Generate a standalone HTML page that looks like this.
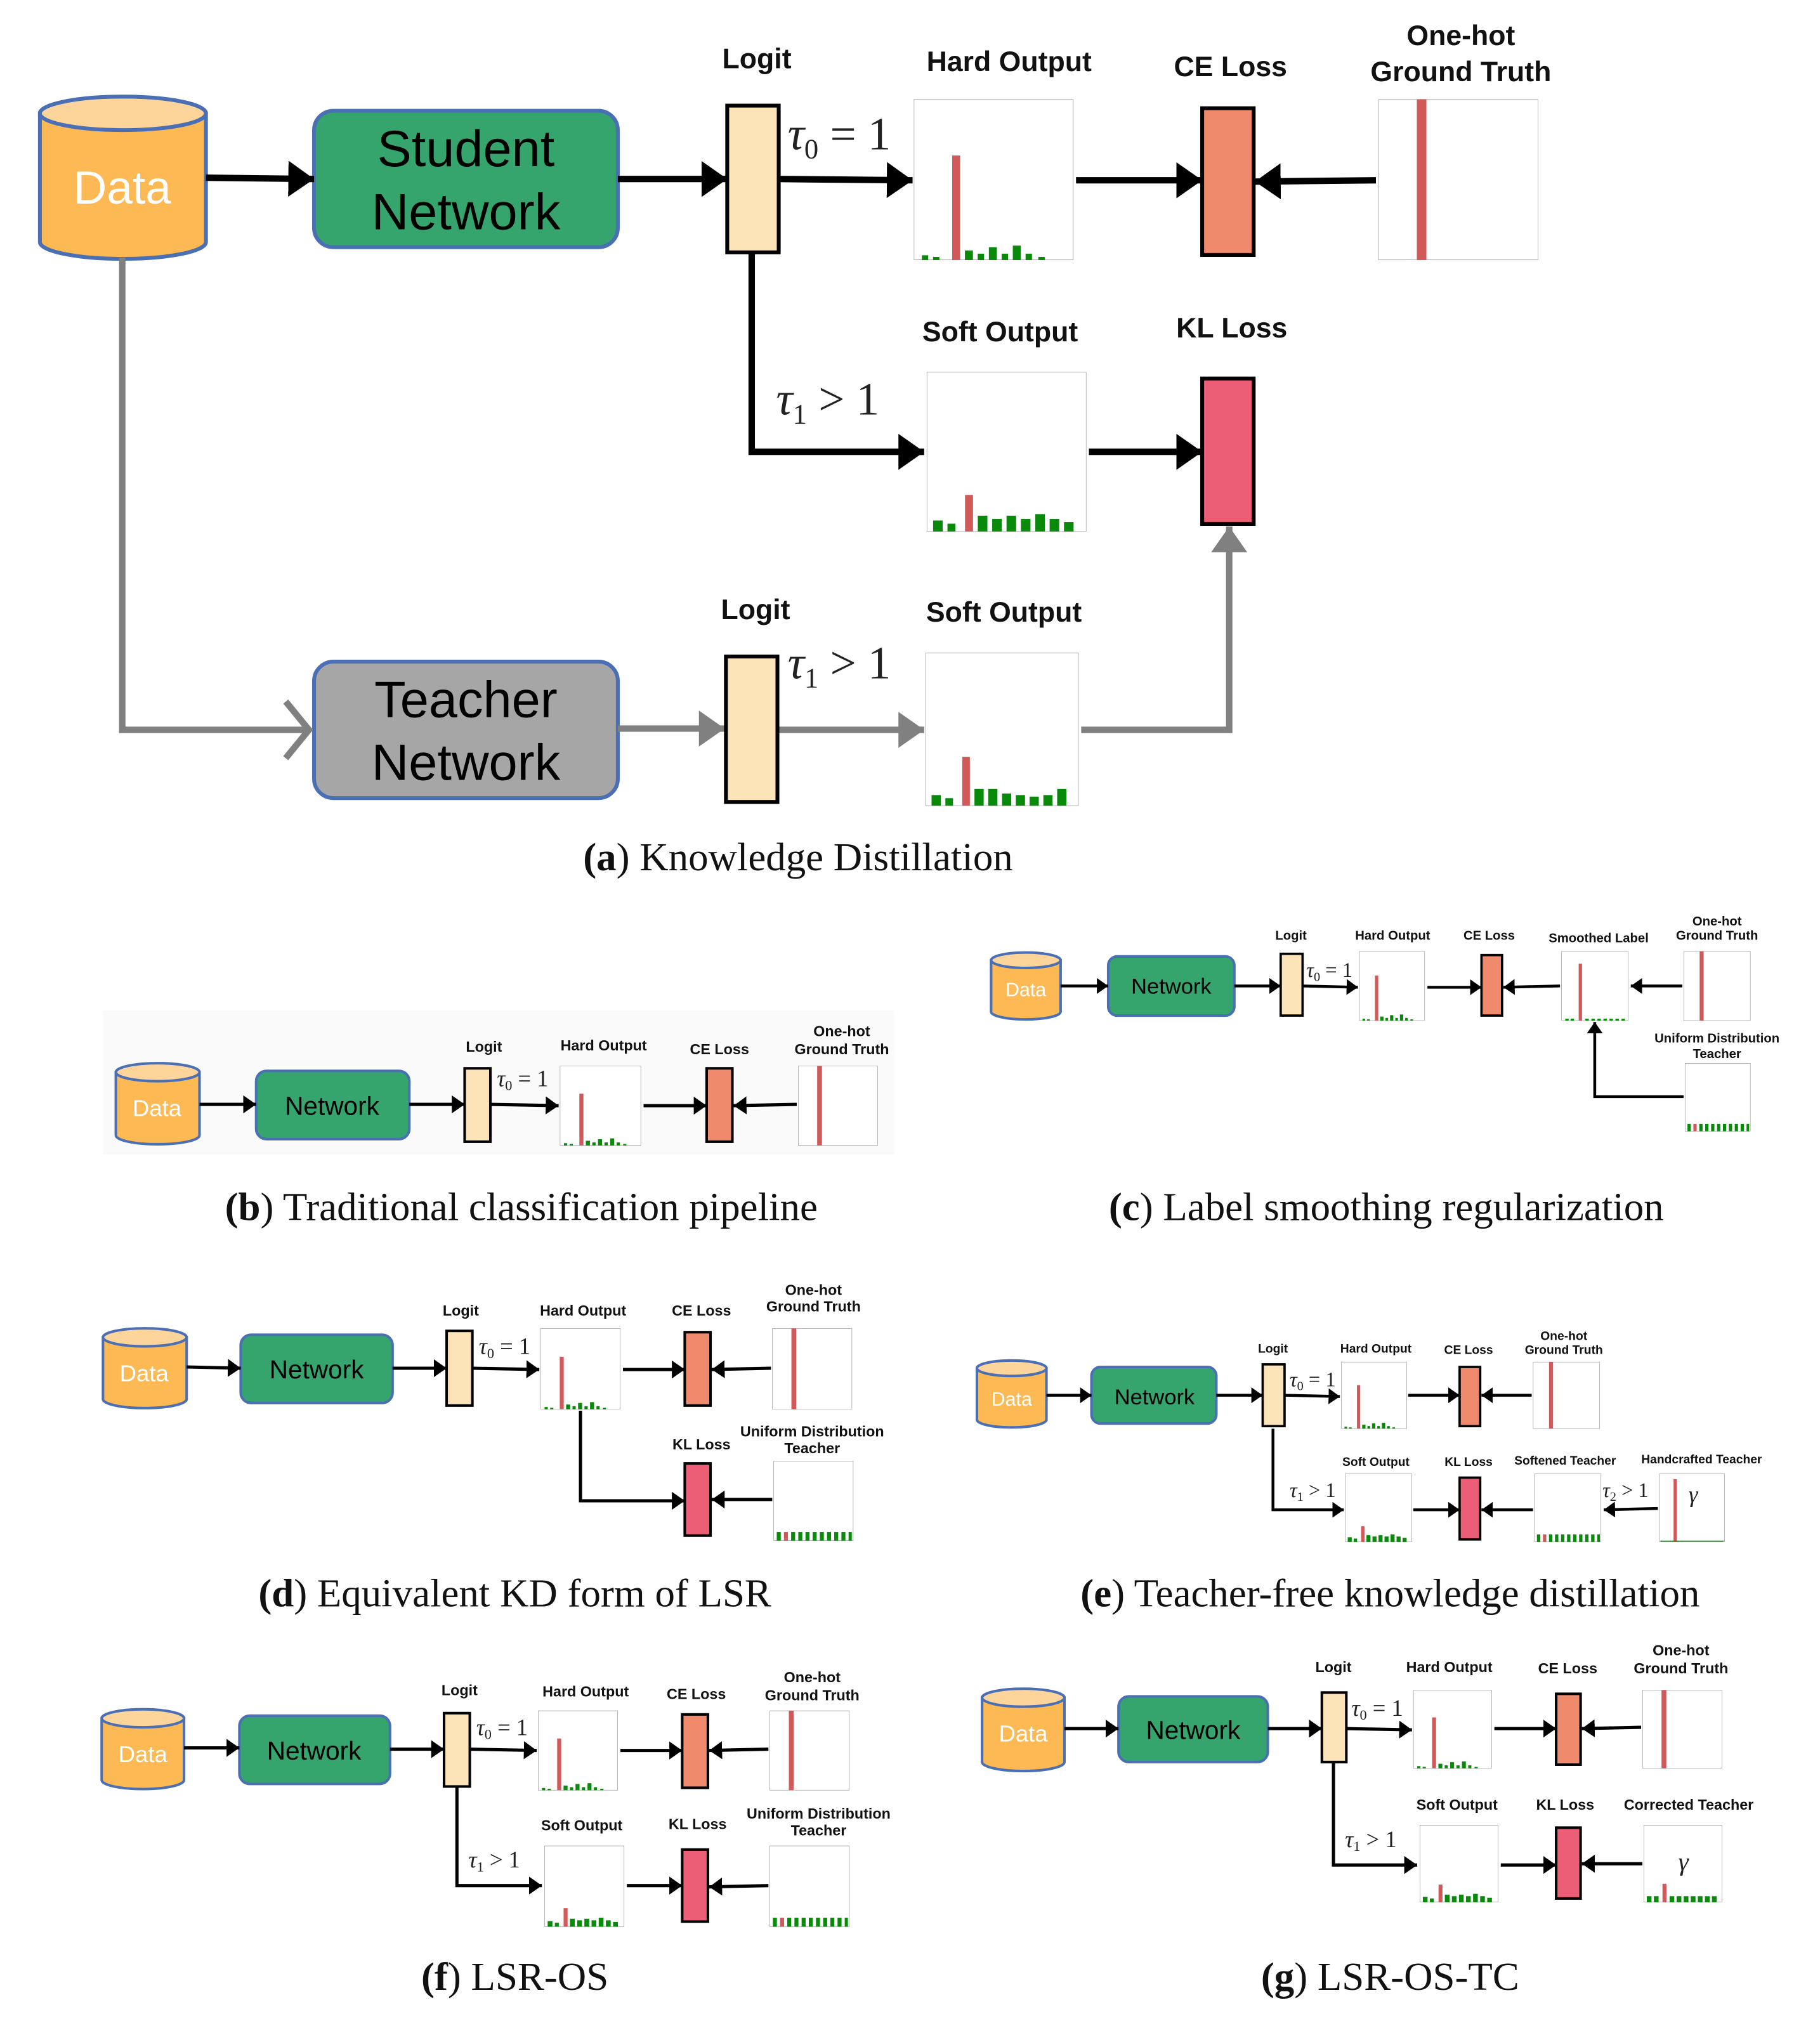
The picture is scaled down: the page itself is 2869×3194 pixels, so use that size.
<!DOCTYPE html>
<html><head><meta charset="utf-8"><style>
html,body{margin:0;padding:0;background:#fff;}
svg{display:block;}
.l{font-family:"Liberation Sans",sans-serif;font-weight:bold;text-anchor:middle;fill:#111;}
.m{font-family:"Liberation Serif",serif;fill:#222;}
.cap{font-family:"Liberation Serif",serif;text-anchor:middle;fill:#111;}
</style></head><body>
<svg width="2869" height="3194" viewBox="0 0 1414 1574" xmlns="http://www.w3.org/2000/svg">
<defs>
<marker id="ab" viewBox="0 0 10 14" refX="10" refY="7" markerWidth="4" markerHeight="5.6" orient="auto" markerUnits="strokeWidth"><path d="M0,0 L10,7 L0,14 z" fill="#000"/></marker>
<marker id="ag" viewBox="0 0 10 14" refX="10" refY="7" markerWidth="4" markerHeight="5.6" orient="auto" markerUnits="strokeWidth"><path d="M0,0 L10,7 L0,14 z" fill="#808080"/></marker>
<symbol id="hard" viewBox="0 0 100 100" preserveAspectRatio="none">
<rect x="0" y="0" width="100" height="100" fill="#fff" stroke="#888" stroke-width="1.2" vector-effect="non-scaling-stroke"/>
<rect x="24" y="35" width="5" height="65" fill="#d05a5a"/>
<g fill="#0a8a0a"><rect x="5" y="97" width="4" height="3"/><rect x="12" y="98" width="4" height="2"/><rect x="32" y="94" width="5" height="6"/><rect x="40" y="96" width="4" height="4"/><rect x="47" y="92" width="5" height="8"/><rect x="55" y="96" width="4" height="4"/><rect x="62" y="91" width="5" height="9"/><rect x="70" y="96" width="4" height="4"/><rect x="78" y="98" width="4" height="2"/></g>
</symbol>
<symbol id="soft" viewBox="0 0 100 100" preserveAspectRatio="none">
<rect x="0" y="0" width="100" height="100" fill="#fff" stroke="#888" stroke-width="1.2" vector-effect="non-scaling-stroke"/>
<rect x="24" y="77" width="5" height="23" fill="#d05a5a"/>
<g fill="#0a8a0a"><rect x="4" y="93" width="6" height="7"/><rect x="13" y="95" width="5" height="5"/><rect x="32" y="90" width="6" height="10"/><rect x="41" y="92" width="6" height="8"/><rect x="50" y="90" width="6" height="10"/><rect x="59" y="92" width="6" height="8"/><rect x="68" y="89" width="6" height="11"/><rect x="77" y="92" width="6" height="8"/><rect x="86" y="94" width="6" height="6"/></g>
</symbol>
<symbol id="softT" viewBox="0 0 100 100" preserveAspectRatio="none">
<rect x="0" y="0" width="100" height="100" fill="#fff" stroke="#888" stroke-width="1.2" vector-effect="non-scaling-stroke"/>
<rect x="24" y="68" width="5" height="32" fill="#d05a5a"/>
<g fill="#0a8a0a"><rect x="4" y="93" width="6" height="7"/><rect x="13" y="95" width="5" height="5"/><rect x="32" y="89" width="6" height="11"/><rect x="41" y="89" width="6" height="11"/><rect x="50" y="92" width="6" height="8"/><rect x="59" y="93" width="6" height="7"/><rect x="68" y="94" width="6" height="6"/><rect x="77" y="93" width="6" height="7"/><rect x="86" y="89" width="6" height="11"/></g>
</symbol>
<symbol id="uni" viewBox="0 0 100 100" preserveAspectRatio="none">
<rect x="0" y="0" width="100" height="100" fill="#fff" stroke="#888" stroke-width="1.2" vector-effect="non-scaling-stroke"/>
<g fill="#0a8a0a"><rect x="4" y="89" width="5" height="11"/><rect x="22" y="89" width="5" height="11"/><rect x="31" y="89" width="5" height="11"/><rect x="40" y="89" width="5" height="11"/><rect x="49" y="89" width="5" height="11"/><rect x="58" y="89" width="5" height="11"/><rect x="67" y="89" width="5" height="11"/><rect x="76" y="89" width="5" height="11"/><rect x="85" y="89" width="5" height="11"/><rect x="94" y="89" width="4" height="11"/></g>
<rect x="13" y="89" width="5" height="11" fill="#d05a5a"/>
</symbol>
<symbol id="smooth" viewBox="0 0 100 100" preserveAspectRatio="none">
<rect x="0" y="0" width="100" height="100" fill="#fff" stroke="#888" stroke-width="1.2" vector-effect="non-scaling-stroke"/>
<rect x="26" y="18" width="5" height="82" fill="#d05a5a"/>
<g fill="#0a8a0a"><rect x="6" y="97" width="5" height="3"/><rect x="14" y="97" width="5" height="3"/><rect x="36" y="97" width="5" height="3"/><rect x="45" y="97" width="5" height="3"/><rect x="54" y="97" width="5" height="3"/><rect x="63" y="97" width="5" height="3"/><rect x="72" y="97" width="5" height="3"/><rect x="81" y="97" width="5" height="3"/><rect x="90" y="97" width="5" height="3"/></g>
</symbol>
<symbol id="onehot" viewBox="0 0 100 100" preserveAspectRatio="none">
<rect x="0" y="0" width="100" height="100" fill="#fff" stroke="#888" stroke-width="1.2" vector-effect="non-scaling-stroke"/>
<rect x="24" y="0" width="6" height="100" fill="#d05a5a"/>
</symbol>
<symbol id="hand" viewBox="0 0 100 100" preserveAspectRatio="none">
<rect x="0" y="0" width="100" height="100" fill="#fff" stroke="#888" stroke-width="1.2" vector-effect="non-scaling-stroke"/>
<rect x="22" y="8" width="5" height="92" fill="#d05a5a"/>
<rect x="2" y="98" width="96" height="1.5" fill="#0a8a0a"/>
</symbol>
<symbol id="corr" viewBox="0 0 100 100" preserveAspectRatio="none">
<rect x="0" y="0" width="100" height="100" fill="#fff" stroke="#888" stroke-width="1.2" vector-effect="non-scaling-stroke"/>
<rect x="24" y="76" width="5" height="24" fill="#d05a5a"/>
<g fill="#0a8a0a"><rect x="4" y="92" width="6" height="8"/><rect x="13" y="92" width="6" height="8"/><rect x="33" y="92" width="6" height="8"/><rect x="42" y="92" width="6" height="8"/><rect x="51" y="92" width="6" height="8"/><rect x="60" y="92" width="6" height="8"/><rect x="69" y="92" width="6" height="8"/><rect x="78" y="92" width="6" height="8"/><rect x="87" y="92" width="6" height="8"/></g>
</symbol>
</defs>

<!-- ===== (a) ===== -->
<g stroke="#4a6fb5" stroke-width="3">
<path d="M31,88 L31,188 A64.5,13 0 0 0 160,188 L160,88 Z" fill="#fdb954"/>
<ellipse cx="95.5" cy="88" rx="64.5" ry="13" fill="#fdd59b"/>
<rect x="244" y="86" width="236" height="106" rx="15" fill="#35a46d"/>
<rect x="244" y="514" width="236" height="106" rx="15" fill="#a6a6a6"/>
</g>
<text x="95" y="158" font-family="Liberation Sans,sans-serif" font-size="36" fill="#fff" text-anchor="middle">Data</text>
<text x="362" y="129" font-family="Liberation Sans,sans-serif" font-size="40" text-anchor="middle">Student</text>
<text x="362" y="178" font-family="Liberation Sans,sans-serif" font-size="40" text-anchor="middle">Network</text>
<text x="362" y="557" font-family="Liberation Sans,sans-serif" font-size="40" text-anchor="middle">Teacher</text>
<text x="362" y="606" font-family="Liberation Sans,sans-serif" font-size="40" text-anchor="middle">Network</text>
<g stroke="#000" stroke-width="5" fill="none" marker-end="url(#ab)">
<line x1="160" y1="138" x2="244" y2="139"/>
<line x1="480" y1="139" x2="565" y2="139"/>
<line x1="605" y1="139" x2="709" y2="140"/>
<line x1="836" y1="140" x2="934" y2="140"/>
<line x1="1069" y1="140" x2="975" y2="141"/>
<polyline points="584,196 584,351 718,351"/>
<line x1="846" y1="351" x2="934" y2="351"/>
</g>
<g stroke="#808080" stroke-width="5" fill="none">
<polyline points="95,200 95,567 240,567"/>
<polyline points="222,545 240,567 222,589"/>
<line x1="480" y1="566" x2="563" y2="566" marker-end="url(#ag)"/>
<line x1="605" y1="567" x2="718" y2="567" marker-end="url(#ag)"/>
<polyline points="840,567 955,567 955,409" marker-end="url(#ag)"/>
</g>
<g stroke="#000" stroke-width="3">
<rect x="565" y="82" width="40" height="114" fill="#fde3b8"/>
<rect x="564" y="510" width="40" height="113" fill="#fde3b8"/>
<rect x="934" y="84" width="40" height="114" fill="#f08a6c"/>
<rect x="934" y="294" width="40" height="113" fill="#eb5e75"/>
</g>
<use href="#hard" x="710" y="77" width="124" height="125"/>
<use href="#onehot" x="1071" y="77" width="124" height="125"/>
<use href="#soft" x="720" y="289" width="124" height="124"/>
<use href="#softT" x="719" y="507" width="119" height="119"/>
<g class="l" font-size="22">
<text x="588" y="53">Logit</text><text x="784" y="55">Hard Output</text><text x="956" y="59">CE Loss</text>
<text x="1135" y="35">One-hot</text><text x="1135" y="63">Ground Truth</text>
<text x="777" y="265">Soft Output</text><text x="957" y="262">KL Loss</text>
<text x="587" y="481">Logit</text><text x="780" y="483">Soft Output</text>
</g>
<text class="m" x="612" y="116" font-size="36"><tspan font-style="italic">τ</tspan><tspan font-size="22" dy="7">0</tspan><tspan dy="-7"> = 1</tspan></text>
<text class="m" x="603" y="322" font-size="36"><tspan font-style="italic">τ</tspan><tspan font-size="22" dy="7">1</tspan><tspan dy="-7"> &gt; 1</tspan></text>
<text class="m" x="612" y="527" font-size="36"><tspan font-style="italic">τ</tspan><tspan font-size="22" dy="7">1</tspan><tspan dy="-7"> &gt; 1</tspan></text>
<text class="cap" x="620" y="676" font-size="31"><tspan font-weight="bold">(a</tspan>) Knowledge Distillation</text>

<!-- ===== (b) ===== -->
<rect x="80" y="785" width="615" height="112" fill="#fafafa"/>
<g stroke="#4a6fb5" stroke-width="2">
<path d="M90,833 L90,882 A32.5,7 0 0 0 155,882 L155,833 Z" fill="#fdb954"/>
<ellipse cx="122.5" cy="833" rx="32.5" ry="7" fill="#fdd59b"/>
<rect x="199" y="832" width="119" height="53" rx="8" fill="#35a46d"/>
</g>
<text x="122" y="867" font-family="Liberation Sans,sans-serif" font-size="18" fill="#fff" text-anchor="middle">Data</text>
<text x="258" y="866" font-family="Liberation Sans,sans-serif" font-size="20" text-anchor="middle">Network</text>
<g stroke="#000" stroke-width="2.5" fill="none" marker-end="url(#ab)">
<line x1="155" y1="858" x2="199" y2="858"/><line x1="318" y1="858" x2="361" y2="858"/>
<line x1="381" y1="858" x2="434" y2="859"/><line x1="500" y1="859" x2="549" y2="859"/>
<line x1="619" y1="858" x2="570" y2="859"/>
</g>
<g stroke="#000" stroke-width="2">
<rect x="361" y="830" width="20" height="57" fill="#fde3b8"/>
<rect x="549" y="830" width="20" height="57" fill="#f08a6c"/>
</g>
<use href="#hard" x="435" y="828" width="63" height="62"/>
<use href="#onehot" x="620" y="828" width="62" height="62"/>
<g class="l" font-size="11.5">
<text x="376" y="817">Logit</text><text x="469" y="816">Hard Output</text><text x="559" y="819">CE Loss</text>
<text x="654" y="805">One-hot</text><text x="654" y="819">Ground Truth</text>
</g>
<text class="m" x="386" y="844" font-size="18"><tspan font-style="italic">τ</tspan><tspan font-size="11" dy="3">0</tspan><tspan dy="-3"> = 1</tspan></text>
<text class="cap" x="405" y="948" font-size="31"><tspan font-weight="bold">(b</tspan>) Traditional classification pipeline</text>

<!-- ===== (c) ===== -->
<g stroke="#4a6fb5" stroke-width="2">
<path d="M770,746 L770,786 A27,6 0 0 0 824,786 L824,746 Z" fill="#fdb954"/>
<ellipse cx="797" cy="746" rx="27" ry="6" fill="#fdd59b"/>
<rect x="861" y="743" width="98" height="46" rx="7" fill="#35a46d"/>
</g>
<text x="797" y="774" font-family="Liberation Sans,sans-serif" font-size="15" fill="#fff" text-anchor="middle">Data</text>
<text x="910" y="772" font-family="Liberation Sans,sans-serif" font-size="17" text-anchor="middle">Network</text>
<g stroke="#000" stroke-width="2.2" fill="none" marker-end="url(#ab)">
<line x1="824" y1="766" x2="861" y2="766"/><line x1="959" y1="766" x2="995" y2="766"/>
<line x1="1012" y1="766" x2="1055" y2="767"/><line x1="1109" y1="767" x2="1151" y2="767"/>
<line x1="1212" y1="766" x2="1168" y2="767"/><line x1="1307" y1="766" x2="1267" y2="766"/>
<polyline points="1308,852 1239,852 1239,794"/>
</g>
<g stroke="#000" stroke-width="1.8">
<rect x="995" y="741" width="17" height="48" fill="#fde3b8"/>
<rect x="1151" y="742" width="16" height="47" fill="#f08a6c"/>
</g>
<use href="#hard" x="1056" y="739" width="51" height="54"/>
<use href="#smooth" x="1213" y="739" width="52" height="54"/>
<use href="#onehot" x="1308" y="739" width="52" height="54"/>
<use href="#uni" x="1309" y="826" width="51" height="53"/>
<g class="l" font-size="10">
<text x="1003" y="730">Logit</text><text x="1082" y="730">Hard Output</text><text x="1157" y="730">CE Loss</text>
<text x="1242" y="732">Smoothed Label</text><text x="1334" y="719">One-hot</text><text x="1334" y="730">Ground Truth</text>
<text x="1334" y="810">Uniform Distribution</text><text x="1334" y="822">Teacher</text>
</g>
<text class="m" x="1015" y="759" font-size="16"><tspan font-style="italic">τ</tspan><tspan font-size="10" dy="3">0</tspan><tspan dy="-3"> = 1</tspan></text>
<text class="cap" x="1077" y="948" font-size="31"><tspan font-weight="bold">(c</tspan>) Label smoothing regularization</text>

<!-- ===== (d) ===== -->
<g stroke="#4a6fb5" stroke-width="2">
<path d="M80,1039 L80,1087 A32.5,7 0 0 0 145,1087 L145,1039 Z" fill="#fdb954"/>
<ellipse cx="112.5" cy="1039" rx="32.5" ry="7" fill="#fdd59b"/>
<rect x="187" y="1037" width="118" height="53" rx="8" fill="#35a46d"/>
</g>
<text x="112" y="1073" font-family="Liberation Sans,sans-serif" font-size="18" fill="#fff" text-anchor="middle">Data</text>
<text x="246" y="1071" font-family="Liberation Sans,sans-serif" font-size="20" text-anchor="middle">Network</text>
<g stroke="#000" stroke-width="2.5" fill="none" marker-end="url(#ab)">
<line x1="145" y1="1062" x2="187" y2="1063"/><line x1="305" y1="1063" x2="347" y2="1063"/>
<line x1="367" y1="1063" x2="419" y2="1064"/><line x1="484" y1="1064" x2="532" y2="1064"/>
<line x1="599" y1="1063" x2="553" y2="1064"/>
<polyline points="451,1096 451,1166 532,1166"/>
<line x1="600" y1="1165" x2="553" y2="1165"/>
</g>
<g stroke="#000" stroke-width="2">
<rect x="347" y="1034" width="20" height="58" fill="#fde3b8"/>
<rect x="532" y="1035" width="20" height="57" fill="#f08a6c"/>
<rect x="532" y="1137" width="20" height="56" fill="#eb5e75"/>
</g>
<use href="#hard" x="420" y="1032" width="62" height="63"/>
<use href="#onehot" x="600" y="1032" width="62" height="63"/>
<use href="#uni" x="601" y="1135" width="62" height="62"/>
<g class="l" font-size="11.5">
<text x="358" y="1022">Logit</text><text x="453" y="1022">Hard Output</text><text x="545" y="1022">CE Loss</text>
<text x="632" y="1006">One-hot</text><text x="632" y="1019">Ground Truth</text>
<text x="545" y="1126">KL Loss</text><text x="631" y="1116">Uniform Distribution</text><text x="631" y="1129">Teacher</text>
</g>
<text class="m" x="372" y="1052" font-size="18"><tspan font-style="italic">τ</tspan><tspan font-size="11" dy="3">0</tspan><tspan dy="-3"> = 1</tspan></text>
<text class="cap" x="400" y="1248" font-size="31"><tspan font-weight="bold">(d</tspan>) Equivalent KD form of LSR</text>

<!-- ===== (e) ===== -->
<g stroke="#4a6fb5" stroke-width="2">
<path d="M759,1063 L759,1103 A27,6 0 0 0 813,1103 L813,1063 Z" fill="#fdb954"/>
<ellipse cx="786" cy="1063" rx="27" ry="6" fill="#fdd59b"/>
<rect x="848" y="1062" width="97" height="44" rx="7" fill="#35a46d"/>
</g>
<text x="786" y="1092" font-family="Liberation Sans,sans-serif" font-size="15" fill="#fff" text-anchor="middle">Data</text>
<text x="897" y="1091" font-family="Liberation Sans,sans-serif" font-size="17" text-anchor="middle">Network</text>
<g stroke="#000" stroke-width="2.2" fill="none" marker-end="url(#ab)">
<line x1="813" y1="1084" x2="848" y2="1084"/><line x1="945" y1="1084" x2="981" y2="1084"/>
<line x1="998" y1="1084" x2="1041" y2="1085"/><line x1="1094" y1="1084" x2="1134" y2="1084"/>
<line x1="1190" y1="1084" x2="1151" y2="1084"/>
<polyline points="989,1110 989,1173 1044,1173"/>
<line x1="1098" y1="1173" x2="1134" y2="1173"/>
<line x1="1191" y1="1173" x2="1151" y2="1173"/>
<line x1="1288" y1="1172" x2="1246" y2="1173"/>
</g>
<g stroke="#000" stroke-width="1.8">
<rect x="981" y="1060" width="17" height="48" fill="#fde3b8"/>
<rect x="1134" y="1062" width="16" height="46" fill="#f08a6c"/>
<rect x="1134" y="1148" width="16" height="48" fill="#eb5e75"/>
</g>
<use href="#hard" x="1042" y="1058" width="51" height="52"/>
<use href="#onehot" x="1191" y="1058" width="52" height="52"/>
<use href="#soft" x="1045" y="1145" width="52" height="53"/>
<use href="#uni" x="1192" y="1145" width="52" height="53"/>
<use href="#hand" x="1289" y="1145" width="51" height="53"/>
<text class="m" x="1312" y="1167" font-size="18" font-style="italic">γ</text>
<g class="l" font-size="9.5">
<text x="989" y="1051">Logit</text><text x="1069" y="1051">Hard Output</text><text x="1141" y="1052">CE Loss</text>
<text x="1215" y="1041">One-hot</text><text x="1215" y="1052">Ground Truth</text>
<text x="1069" y="1139">Soft Output</text><text x="1141" y="1139">KL Loss</text>
<text x="1216" y="1138">Softened Teacher</text><text x="1322" y="1137">Handcrafted Teacher</text>
</g>
<text class="m" x="1002" y="1163" font-size="16"><tspan font-style="italic">τ</tspan><tspan font-size="10" dy="3">1</tspan><tspan dy="-3"> &gt; 1</tspan></text>
<text class="m" x="1002" y="1077" font-size="16"><tspan font-style="italic">τ</tspan><tspan font-size="10" dy="3">0</tspan><tspan dy="-3"> = 1</tspan></text>
<text class="m" x="1245" y="1163" font-size="16"><tspan font-style="italic">τ</tspan><tspan font-size="10" dy="3">2</tspan><tspan dy="-3"> &gt; 1</tspan></text>
<text class="cap" x="1080" y="1248" font-size="31"><tspan font-weight="bold">(e</tspan>) Teacher-free knowledge distillation</text>

<!-- ===== (f) ===== -->
<g stroke="#4a6fb5" stroke-width="2">
<path d="M79,1335 L79,1383 A32,7 0 0 0 143,1383 L143,1335 Z" fill="#fdb954"/>
<ellipse cx="111" cy="1335" rx="32" ry="7" fill="#fdd59b"/>
<rect x="186" y="1333" width="117" height="53" rx="8" fill="#35a46d"/>
</g>
<text x="111" y="1369" font-family="Liberation Sans,sans-serif" font-size="18" fill="#fff" text-anchor="middle">Data</text>
<text x="244" y="1367" font-family="Liberation Sans,sans-serif" font-size="20" text-anchor="middle">Network</text>
<g stroke="#000" stroke-width="2.5" fill="none" marker-end="url(#ab)">
<line x1="143" y1="1358" x2="186" y2="1358"/><line x1="303" y1="1359" x2="345" y2="1359"/>
<line x1="365" y1="1359" x2="417" y2="1360"/><line x1="482" y1="1360" x2="530" y2="1360"/>
<line x1="597" y1="1359" x2="551" y2="1360"/>
<polyline points="355,1388 355,1465 421,1465"/>
<line x1="487" y1="1465" x2="530" y2="1465"/>
<line x1="597" y1="1465" x2="551" y2="1466"/>
</g>
<g stroke="#000" stroke-width="2">
<rect x="345" y="1331" width="20" height="57" fill="#fde3b8"/>
<rect x="530" y="1332" width="20" height="57" fill="#f08a6c"/>
<rect x="530" y="1437" width="20" height="56" fill="#eb5e75"/>
</g>
<use href="#hard" x="418" y="1329" width="62" height="62"/>
<use href="#onehot" x="598" y="1329" width="62" height="62"/>
<use href="#soft" x="423" y="1434" width="62" height="63"/>
<use href="#uni" x="598" y="1434" width="62" height="63"/>
<g class="l" font-size="11.5">
<text x="357" y="1317">Logit</text><text x="455" y="1318">Hard Output</text><text x="541" y="1320">CE Loss</text>
<text x="631" y="1307">One-hot</text><text x="631" y="1321">Ground Truth</text>
<text x="452" y="1422">Soft Output</text><text x="542" y="1421">KL Loss</text>
<text x="636" y="1413">Uniform Distribution</text><text x="636" y="1426">Teacher</text>
</g>
<text class="m" x="370" y="1348" font-size="18"><tspan font-style="italic">τ</tspan><tspan font-size="11" dy="3">0</tspan><tspan dy="-3"> = 1</tspan></text>
<text class="m" x="364" y="1451" font-size="18"><tspan font-style="italic">τ</tspan><tspan font-size="11" dy="3">1</tspan><tspan dy="-3"> &gt; 1</tspan></text>
<text class="cap" x="400" y="1546" font-size="31"><tspan font-weight="bold">(f</tspan>) LSR-OS</text>

<!-- ===== (g) ===== -->
<g stroke="#4a6fb5" stroke-width="2">
<path d="M763,1319 L763,1369 A32,7 0 0 0 827,1369 L827,1319 Z" fill="#fdb954"/>
<ellipse cx="795" cy="1319" rx="32" ry="7" fill="#fdd59b"/>
<rect x="869" y="1318" width="116" height="51" rx="8" fill="#35a46d"/>
</g>
<text x="795" y="1353" font-family="Liberation Sans,sans-serif" font-size="18" fill="#fff" text-anchor="middle">Data</text>
<text x="927" y="1351" font-family="Liberation Sans,sans-serif" font-size="20" text-anchor="middle">Network</text>
<g stroke="#000" stroke-width="2.5" fill="none" marker-end="url(#ab)">
<line x1="827" y1="1343" x2="869" y2="1343"/><line x1="985" y1="1343" x2="1027" y2="1343"/>
<line x1="1046" y1="1343" x2="1097" y2="1344"/><line x1="1161" y1="1343" x2="1209" y2="1343"/>
<line x1="1275" y1="1342" x2="1229" y2="1343"/>
<polyline points="1036,1369 1036,1449 1101,1449"/>
<line x1="1166" y1="1449" x2="1209" y2="1449"/>
<line x1="1276" y1="1448" x2="1229" y2="1448"/>
</g>
<g stroke="#000" stroke-width="2">
<rect x="1027" y="1315" width="19" height="54" fill="#fde3b8"/>
<rect x="1209" y="1316" width="19" height="55" fill="#f08a6c"/>
<rect x="1209" y="1420" width="19" height="55" fill="#eb5e75"/>
</g>
<use href="#hard" x="1098" y="1313" width="61" height="61"/>
<use href="#onehot" x="1276" y="1313" width="62" height="61"/>
<use href="#soft" x="1103" y="1418" width="61" height="60"/>
<use href="#corr" x="1277" y="1418" width="61" height="60"/>
<text class="m" x="1304" y="1453" font-size="20" font-style="italic">γ</text>
<g class="l" font-size="11.5">
<text x="1036" y="1299">Logit</text><text x="1126" y="1299">Hard Output</text><text x="1218" y="1300">CE Loss</text>
<text x="1306" y="1286">One-hot</text><text x="1306" y="1300">Ground Truth</text>
<text x="1132" y="1406">Soft Output</text><text x="1216" y="1406">KL Loss</text><text x="1312" y="1406">Corrected Teacher</text>
</g>
<text class="m" x="1050" y="1333" font-size="18"><tspan font-style="italic">τ</tspan><tspan font-size="11" dy="3">0</tspan><tspan dy="-3"> = 1</tspan></text>
<text class="m" x="1045" y="1435" font-size="18"><tspan font-style="italic">τ</tspan><tspan font-size="11" dy="3">1</tspan><tspan dy="-3"> &gt; 1</tspan></text>
<text class="cap" x="1080" y="1546" font-size="31"><tspan font-weight="bold">(g</tspan>) LSR-OS-TC</text>
</svg>
</body></html>
